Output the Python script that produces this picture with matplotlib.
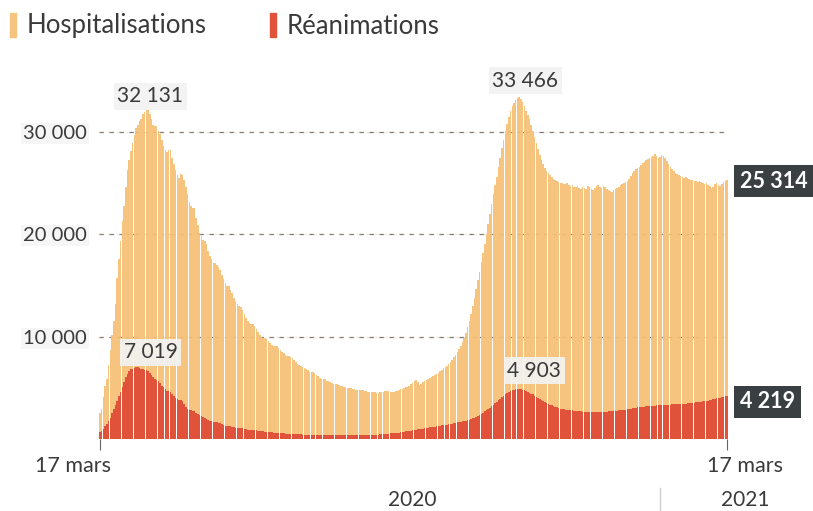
import matplotlib
matplotlib.use("Agg")
import matplotlib.pyplot as plt
from matplotlib.patches import Rectangle

plt.rcParams['font.family'] = ['Lato', 'DejaVu Sans']

# Daily values, 17 March 2020 -> 17 March 2021
hosp_mar20 = [2579, 2972, 4073, 5226, 5900, 7240, 8673, 10176, 11539, 13192, 15732, 17620, 19354, 21284, 22757]
hosp_apr20 = [24639, 26246, 27302, 28142, 28891, 29721, 30375, 30639, 31034, 31267, 31779, 31911, 32113, 32131, 31779,
              31305, 30639, 30584, 30610, 30106, 29784, 29219, 28658, 28217, 28055, 28217, 28222, 27484, 26834, 26283]
hosp_may20 = [25827, 25548, 25887, 25775, 25285, 24594, 23983, 23208, 22724, 22614, 22569, 21595, 20946, 20124, 19861,
              19432, 19361, 19015, 18325, 17916, 17557, 17185, 17178, 17003, 16798, 16466, 15998, 15609, 15208, 14963, 14903]
hosp_jun20 = [14541, 14219, 13826, 13447, 13163, 12974, 12867, 12577, 12181, 11810, 11570, 11375, 11275, 11226, 11005,
              10717, 10475, 10199, 9966, 9909, 9898, 9793, 9598, 9383, 9223, 9110, 9075, 9040, 8894, 8694]
hosp_jul20 = [8548, 8388, 8224, 8120, 8091, 8041, 7883, 7682, 7480, 7310, 7185, 7153, 7080, 6976, 6834, 6728, 6596,
              6545, 6514, 6424, 6280, 6130, 5970, 5860, 5842, 5829, 5714, 5646, 5571, 5469, 5408]
hosp_aug20 = [5384, 5341, 5275, 5204, 5149, 5103, 5061, 5027, 5011, 4991, 4927, 4861, 4811, 4779, 4767, 4781, 4749,
              4702, 4655, 4618, 4583, 4574, 4589, 4570, 4534, 4530, 4546, 4580, 4608, 4654, 4706]
hosp_sep20 = [4650, 4620, 4600, 4630, 4680, 4720, 4790, 4860, 4920, 4990, 5050, 5120, 5200, 5330, 5500, 5700, 5760,
              5560, 5270, 5420, 5560, 5690, 5800, 5880, 5960, 6060, 6140, 6230, 6350, 6480]
hosp_oct20 = [6630, 6780, 6900, 6990, 7130, 7330, 7530, 7750, 7980, 8220, 8470, 8770, 9100, 9480, 9900, 10400, 10950,
              11550, 12250, 13000, 13800, 14650, 15500, 16350, 17250, 18150, 19100, 20050, 21000, 22000, 23000]
hosp_nov20 = [23900, 24800, 25600, 26600, 27500, 28400, 29200, 30100, 30800, 31500, 32100, 32500, 32800, 33100, 33300,
              33466, 33200, 32900, 32500, 32100, 31700, 31300, 30700, 30100, 29500, 28900, 28300, 27800, 27300, 26900]
hosp_dec20 = [26500, 26200, 26000, 25800, 25600, 25400, 25300, 25200, 25100, 25050, 25000, 24950, 24900, 25000, 24850,
              24700, 24800, 24650, 24600, 24750, 24500, 24400, 24600, 24550, 24450, 24700, 24600, 24450, 24300, 24500, 24700]
hosp_jan21 = [24800, 24600, 24500, 24700, 24600, 24400, 24300, 24200, 24150, 24300, 24450, 24550, 24650, 24800, 24900,
              25000, 25100, 25200, 25400, 25700, 26000, 26200, 26400, 26500, 26600, 26800, 27000, 27100, 27300, 27400, 27500]
hosp_feb21 = [27600, 27700, 27850, 27700, 27500, 27600, 27750, 27650, 27500, 27200, 26900, 26600, 26400, 26200, 26000,
              25900, 25800, 25700, 25600, 25500, 25600, 25500, 25400, 25300, 25350, 25200, 25250, 25150]
hosp_mar21 = [25200, 25100, 25000, 24900, 25050, 24800, 24700, 24500, 24650, 24900, 25000, 24850, 24700, 24900, 25100,
              25200, 25314]

rea_mar20 = [699, 771, 1002, 1297, 1453, 1746, 2080, 2516, 2935, 3351, 3758, 4236, 4592, 5107, 5565]
rea_apr20 = [6017, 6399, 6662, 6838, 6872, 6948, 7004, 7019, 6982, 6883, 6821, 6741, 6714, 6688, 6457, 6248, 6017,
             5833, 5744, 5683, 5433, 5218, 5053, 4870, 4725, 4682, 4608, 4387, 4207, 4019]
rea_may20 = [3878, 3827, 3819, 3696, 3430, 3147, 2961, 2868, 2812, 2776, 2712, 2542, 2428, 2299, 2203, 2132, 2087,
             1998, 1894, 1794, 1745, 1701, 1665, 1655, 1609, 1555, 1429, 1361, 1319, 1302, 1288]
rea_jun20 = [1253, 1203, 1162, 1120, 1094, 1063, 1053, 1033, 968, 934, 906, 896, 879, 871, 865, 855, 822, 793, 752,
             734, 713, 702, 688, 663, 643, 625, 604, 596, 587, 569]
rea_jul20 = [549, 538, 521, 514, 512, 496, 490, 484, 466, 456, 453, 446, 437, 431, 418, 414, 409, 406, 401, 398, 390,
             389, 383, 379, 377, 375, 373, 371, 380, 384, 390]
rea_aug20 = [391, 392, 384, 386, 387, 385, 386, 384, 384, 390, 387, 387, 385, 386, 377, 391, 402, 399, 399, 402, 406,
             403, 414, 414, 405, 425, 441, 454, 472, 494, 515]
rea_sep20 = [530, 560, 575, 580, 595, 600, 620, 650, 690, 720, 740, 750, 760, 800, 850, 880, 900, 940, 950, 960, 1000,
             1050, 1090, 1110, 1130, 1140, 1170, 1200, 1240, 1270]
rea_oct20 = [1290, 1320, 1340, 1380, 1410, 1440, 1470, 1500, 1540, 1580, 1620, 1640, 1670, 1720, 1750, 1800, 1830,
             1890, 1940, 2010, 2100, 2190, 2290, 2390, 2480, 2580, 2700, 2820, 2950, 3050, 3200]
rea_nov20 = [3350, 3500, 3650, 3800, 3950, 4100, 4250, 4350, 4450, 4550, 4650, 4750, 4800, 4850, 4880, 4903, 4870,
             4820, 4760, 4690, 4610, 4530, 4440, 4350, 4250, 4150, 4050, 3950, 3850, 3750]
rea_dec20 = [3650, 3550, 3450, 3350, 3280, 3200, 3130, 3080, 3020, 2970, 2930, 2900, 2880, 2860, 2840, 2810, 2790,
             2770, 2750, 2730, 2700, 2690, 2680, 2670, 2660, 2640, 2630, 2620, 2620, 2610, 2620]
rea_jan21 = [2620, 2630, 2645, 2650, 2665, 2680, 2700, 2715, 2740, 2750, 2765, 2780, 2800, 2830, 2845, 2870, 2880,
             2905, 2930, 2960, 2985, 3020, 3045, 3080, 3100, 3125, 3150, 3165, 3190, 3200, 3215]
rea_feb21 = [3230, 3245, 3260, 3285, 3300, 3310, 3325, 3330, 3345, 3350, 3365, 3370, 3385, 3390, 3405, 3410, 3425,
             3430, 3445, 3450, 3465, 3480, 3505, 3520, 3545, 3560, 3585, 3600]
rea_mar21 = [3620, 3650, 3680, 3710, 3740, 3760, 3790, 3830, 3870, 3910, 3960, 4010, 4050, 4090, 4130, 4180, 4219]

hosp = (hosp_mar20 + hosp_apr20 + hosp_may20 + hosp_jun20 + hosp_jul20 + hosp_aug20 + hosp_sep20 + hosp_oct20
        + hosp_nov20 + hosp_dec20 + hosp_jan21 + hosp_feb21 + hosp_mar21)
rea = (rea_mar20 + rea_apr20 + rea_may20 + rea_jun20 + rea_jul20 + rea_aug20 + rea_sep20 + rea_oct20
       + rea_nov20 + rea_dec20 + rea_jan21 + rea_feb21 + rea_mar21)

y_ticks = [10000, 20000, 30000]
y_tick_labels = ["10 000", "20 000", "30 000"]
x_tick_labels = ["17 mars", "17 mars"]
years = ["2020", "2021"]
series_names = ["Hospitalisations", "Réanimations"]

C_HOSP = "#F6C47E"
C_REA = "#E0523A"
C_DARK = "#3A3F42"
C_TEXT = "#3a3a3a"

W, H = 813, 511
fig = plt.figure(figsize=(W / 100, H / 100), dpi=100)

def fx(px):
    return px / W

def fy(py):
    return 1 - py / H

n = len(hosp)
days = list(range(n))
px_per_day = (727 - 100) / (n - 1)
ax_left = 100 - 0.5 * px_per_day
ax_w = n * px_per_day
y0_px = 439
px_per_unit = (439 - 132) / 30000
ymax = 34800
ax_top = y0_px - ymax * px_per_unit
ax = fig.add_axes([fx(ax_left), fy(y0_px), ax_w / W, (y0_px - ax_top) / H])

ax.set_xlim(-0.5, n - 0.5)
ax.set_ylim(0, ymax)

# gridlines
for v in y_ticks:
    ax.axhline(v, color="#7a7a7a", lw=0.9, ls=(0, (3.5, 4.5)), zorder=0)

ax.bar(days, hosp, width=0.9, color=C_HOSP, linewidth=0, zorder=1)
ax.bar(days, rea, width=0.9, color=C_REA, linewidth=0, zorder=2)

for v in y_ticks:
    ax.axhline(v, color="#c9a060", lw=0.8, ls=(0, (3.5, 4.5)), alpha=0.25, zorder=3)

for s in ax.spines.values():
    s.set_visible(False)

ax.set_yticks(y_ticks)
ax.set_yticklabels(y_tick_labels, fontsize=14.5, color=C_TEXT)
ax.tick_params(axis='y', length=0, pad=9)
for lab in ax.get_yticklabels():
    lab.set_bbox(dict(facecolor="#f6f6f6", edgecolor="none", pad=1.5))

ax.set_xticks([0, n - 1])
ax.set_xticklabels(["", ""])
ax.tick_params(axis='x', length=8, width=0.8, color="#666666", direction='out')

# x labels
fig.text(fx(73), fy(466), x_tick_labels[0], ha='center', va='center', fontsize=15.5, color=C_TEXT)
fig.text(fx(745), fy(466), x_tick_labels[1], ha='center', va='center', fontsize=15.5, color=C_TEXT)
fig.text(fx(412), fy(500), years[0], ha='center', va='center', fontsize=15, color=C_TEXT)
fig.text(fx(745), fy(500), years[1], ha='center', va='center', fontsize=15, color=C_TEXT)
fig.add_artist(plt.Line2D([fx(660), fx(660)], [fy(488), fy(511)], color="#cccccc", lw=1))

# peak annotations
def peak_label(values, first, last, dx, dy):
    seg = values[first:last]
    v = max(seg)
    i = first + seg.index(v)
    txt = f"{v:,}".replace(",", " ")
    ax.annotate(txt, xy=(i, v), xytext=(dx, dy), textcoords='offset pixels',
                ha='center', va='center', fontsize=15, color=C_TEXT, zorder=5,
                bbox=dict(facecolor="#f2f2f2", edgecolor="none", alpha=0.92, pad=2.5))

peak_label(hosp, 0, 120, 2, 14)
peak_label(hosp, 150, 300, 6, 16)
peak_label(rea, 0, 120, 13, 15)
peak_label(rea, 150, 300, 15, 18)

# end labels
def end_label(v, py):
    txt = f"{v:,}".replace(",", " ")
    fig.text(fx(740), fy(py), txt, ha='left', va='center', fontsize=15.5, color="white",
             fontweight='bold', bbox=dict(facecolor=C_DARK, edgecolor="none", pad=4))

end_label(hosp[-1], 181)
end_label(rea[-1], 402)

# legend
fig.add_artist(Rectangle((fx(10), fy(37)), 6 / W, 24 / H, color=C_HOSP, transform=fig.transFigure))
fig.add_artist(Rectangle((fx(270), fy(37)), 6 / W, 24 / H, color=C_REA, transform=fig.transFigure))
fig.text(fx(27), fy(26), series_names[0], ha='left', va='center', fontsize=18.5, color=C_TEXT)
fig.text(fx(287), fy(26), series_names[1], ha='left', va='center', fontsize=18.5, color=C_TEXT)

fig.savefig("out.png", dpi=100)
